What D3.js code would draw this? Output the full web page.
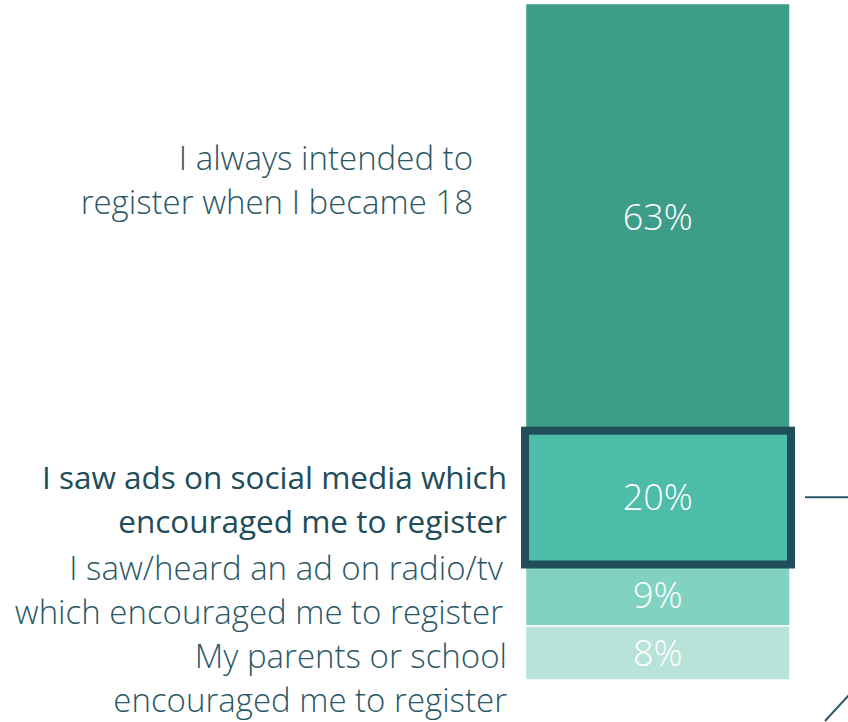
<!DOCTYPE html>
<html lang="en">
  <head>
    <meta charset="utf-8">
    <title>Registration reasons</title>
    <script src="https://d3js.org/d3.v7.min.js"></script>
    <style>
      body { margin: 0; background: #fff; }
      .lbl { font-family: "Open Sans", Lato, sans-serif; font-weight: 300; fill: #2c5866; }
      .lbl.hi { font-weight: 400; fill: #214c5a; }
      .val { font-family: "Open Sans", Lato, sans-serif; font-weight: 300; fill: #fff; text-anchor: middle; }
    </style>
  </head>
  <body>
    <script>
      // data
      var categories = [
        ["I always intended to", "register when I became 18"],
        ["I saw ads on social media which", "encouraged me to register"],
        ["I saw/heard an ad on radio/tv", "which encouraged me to register"],
        ["My parents or school", "encouraged me to register"]
      ];
      var values = [63, 20, 9, 8];
      var colors = ["#3d9d89", "#4dbca9", "#81d2c1", "#b7e3d8"];
      var highlight = 1;

      var width = 848, height = 722;
      var barLeft = 525.5, barRight = 790;
      var labelRight = [473, 507, 503, 507];
      var labelShift = [-36, 3, -5, 25.5];   // PowerPoint-ish nudges
      var lineGap = 44;

      var svg = d3.select("body").append("svg")
        .attr("width", width)
        .attr("height", height);

      var y = d3.scaleLinear().domain([0, 100]).range([3.5, 680]);

      var acc = 0;
      var segs = values.map(function(v, i) {
        var s = {i: i, v: v, y0: acc, y1: acc + v};
        acc += v;
        return s;
      });

      svg.selectAll("rect.seg")
        .data(segs)
        .enter().append("rect")
        .attr("class", "seg")
        .attr("x", barLeft)
        .attr("width", barRight - barLeft)
        .attr("y", function(d) { return y(d.y0); })
        .attr("height", function(d) { return y(d.y1) - y(d.y0); })
        .attr("fill", function(d) { return colors[d.i]; })
        .attr("stroke", "#fff")
        .attr("stroke-width", 1.5);

      // highlight frame
      var h = segs[highlight];
      svg.append("rect")
        .attr("x", barLeft - 0.5)
        .attr("width", barRight - barLeft + 1.5)
        .attr("y", y(h.y0) + 1)
        .attr("height", y(h.y1) - y(h.y0) - 1.5)
        .attr("fill", "none")
        .attr("stroke", "#214e5b")
        .attr("stroke-width", 8);

      svg.selectAll("text.val")
        .data(segs)
        .enter().append("text")
        .attr("class", "val")
        .attr("x", (barLeft + barRight) / 2)
        .attr("y", function(d) { return (y(d.y0) + y(d.y1)) / 2; })
        .attr("dy", "0.36em")
        .style("font-size", "36px")
        .text(function(d) { return d.v + "%"; });

      // category labels, right aligned against the bar
      segs.forEach(function(d) {
        var mid = (y(d.y0) + y(d.y1)) / 2 + labelShift[d.i];
        var lines = categories[d.i];
        var t = svg.append("text")
          .attr("class", d.i === highlight ? "lbl hi" : "lbl")
          .attr("text-anchor", "end")
          .style("font-size", d.i === highlight ? "31.5px" : "33px");
        lines.forEach(function(line, k) {
          t.append("tspan")
            .attr("x", labelRight[d.i])
            .attr("y", mid + (k - (lines.length - 1) / 2) * lineGap)
            .attr("dy", "0.35em")
            .text(line);
        });
      });

      // connector stubs on the right
      svg.append("line")
        .attr("x1", 805).attr("x2", 848)
        .attr("y1", (y(h.y0) + y(h.y1)) / 2).attr("y2", (y(h.y0) + y(h.y1)) / 2)
        .attr("stroke", "#2b5866").attr("stroke-width", 2);
      svg.append("line")
        .attr("x1", 825).attr("y1", 721)
        .attr("x2", 849).attr("y2", 695)
        .attr("stroke", "#2b5866").attr("stroke-width", 2);
    </script>
  </body>
</html>
